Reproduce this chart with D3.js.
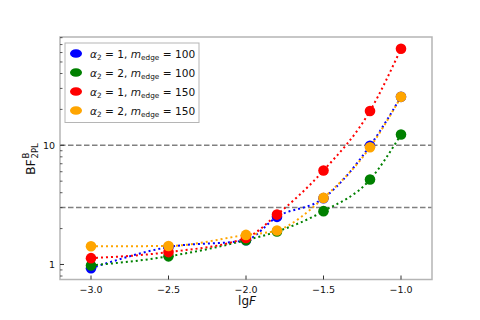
<!DOCTYPE html>
<html><head><meta charset="utf-8">
<script src="https://cdn.jsdelivr.net/npm/d3@7"></script>
<style>body{margin:0;background:#fff}svg{font-family:"DejaVu Sans",sans-serif}</style>
</head><body><svg id="c" width="480" height="320"></svg>
<script>
const lgF = [-3.0, -2.5, -2.0, -1.8, -1.5, -1.2, -1.0];
const blueVals   = [0.93, 1.40, 1.60, 2.51, 3.60, 9.9, 25.5];
const greenVals  = [0.98, 1.17, 1.60, 1.89, 2.80, 5.16, 12.3];
const redVals    = [1.13, 1.27, 1.67, 2.62, 6.14, 19.4, 64.6];
const orangeVals = [1.42, 1.43, 1.77, 1.93, 3.62, 9.62, 25.5];
const seriesNames = ["blue","green","red","orange"];
const seriesColors = ["#0000ff","#008000","#ff0000","#ffa500"];
const seriesAlpha = ["1","2","1","2"];
const seriesMedge = ["100","100","150","150"];
const xTicks = [-3.0, -2.5, -2.0, -1.5, -1.0];
const yTicks = [1, 10];
const hLines = [3, 10];
const allVals = [blueVals, greenVals, redVals, orangeVals];

const svg = d3.select("#c");
const L = 60, R = 432, T = 37, B = 279.5;
const x = d3.scaleLinear().domain([-3.2, -0.8]).range([L, R]);
const y = d3.scaleLog().domain([0.748, 81]).range([B, T]);

svg.selectAll(".hl").data(hLines).enter().append("line")
  .attr("x1", L).attr("x2", R).attr("y1", d => y(d)).attr("y2", d => y(d))
  .attr("stroke", "#808080").attr("stroke-width", 1.5).attr("stroke-dasharray", "5.5,2.5");

const line = d3.line().x((d,i) => x(lgF[i])).y(d => y(d)).curve(d3.curveMonotoneX);
allVals.forEach((vals, k) => {
  svg.append("path").attr("d", line(vals)).attr("fill", "none")
    .attr("stroke", seriesColors[k]).attr("stroke-width", 2).attr("stroke-dasharray", "2,3");
});
allVals.forEach((vals, k) => {
  svg.selectAll(".m" + k).data(vals).enter().append("circle")
    .attr("cx", (d,i) => x(lgF[i])).attr("cy", d => y(d)).attr("r", 5.3)
    .attr("fill", seriesColors[k]);
});

svg.append("rect").attr("x", L).attr("y", T).attr("width", R - L).attr("height", B - T)
  .attr("fill", "none").attr("stroke", "#b5b5b5").attr("stroke-width", 1.5);

const gx = svg.append("g");
xTicks.forEach(t => {
  gx.append("line").attr("x1", x(t)).attr("x2", x(t)).attr("y1", B).attr("y2", B - 4)
    .attr("stroke", "#333").attr("stroke-width", 1);
  gx.append("text").attr("x", x(t)).attr("y", B + 13).attr("text-anchor", "middle")
    .attr("font-size", 9.5).attr("fill", "#111").text(d3.format(".1f")(t).replace("-", "\u2212"));
});
const minors = [];
[0.1, 1, 10].forEach(dec => { for (let m = 2; m <= 9; m++) minors.push(m * dec); });
minors.filter(v => v > 0.748 && v < 81).forEach(v => {
  svg.append("line").attr("x1", L).attr("x2", L + 2.5).attr("y1", y(v)).attr("y2", y(v))
    .attr("stroke", "#333").attr("stroke-width", 0.8);
});
yTicks.forEach(t => {
  svg.append("line").attr("x1", L).attr("x2", L + 4).attr("y1", y(t)).attr("y2", y(t))
    .attr("stroke", "#333").attr("stroke-width", 1);
  svg.append("text").attr("x", L - 5).attr("y", y(t) + 3.5).attr("text-anchor", "end")
    .attr("font-size", 9.5).attr("fill", "#111").text(t);
});

const xl = svg.append("text").attr("x", (L + R) / 2 + 1).attr("y", 305).attr("text-anchor", "middle")
  .attr("font-size", 12).attr("fill", "#111");
xl.append("tspan").text("lg");
xl.append("tspan").attr("font-style", "italic").text("F");

const yl = svg.append("g").attr("transform", "translate(35,157) rotate(-90)");
const bf = yl.append("text").attr("x", -18).attr("y", 0).attr("font-size", 12.5).attr("fill", "#111").text("BF");
const w = bf.node().getComputedTextLength();
yl.append("text").attr("x", -18 + w + 0.8).attr("y", -6).attr("font-size", 8.5).attr("fill", "#111").text("B");
yl.append("text").attr("x", -18 + w + 0.8).attr("y", 3.2).attr("font-size", 8.5).attr("fill", "#111").text("2PL");

const lg = svg.append("g");
lg.append("rect").attr("x", 65).attr("y", 43).attr("width", 134).attr("height", 79.5)
  .attr("fill", "#fff").attr("stroke", "#b5b5b5").attr("stroke-width", 1);
seriesNames.forEach((n, k) => {
  const yy = 53.5 + k * 19;
  lg.append("ellipse").attr("cx", 76).attr("cy", yy).attr("rx", 6).attr("ry", 4.3).attr("fill", seriesColors[k]);
  const t = lg.append("text").attr("x", 90).attr("y", yy + 4).attr("font-size", 10.6).attr("fill", "#111");
  t.append("tspan").attr("font-style", "italic").text("\u03b1");
  t.append("tspan").attr("font-size", 7.3).attr("dy", 2.5).text("2");
  t.append("tspan").attr("dy", -2.5).text(" = " + seriesAlpha[k] + ", ");
  t.append("tspan").attr("font-style", "italic").text("m");
  t.append("tspan").attr("font-size", 7.3).attr("dy", 2.5).text("edge");
  t.append("tspan").attr("dy", -2.5).text(" = " + seriesMedge[k]);
});
</script></body></html>
